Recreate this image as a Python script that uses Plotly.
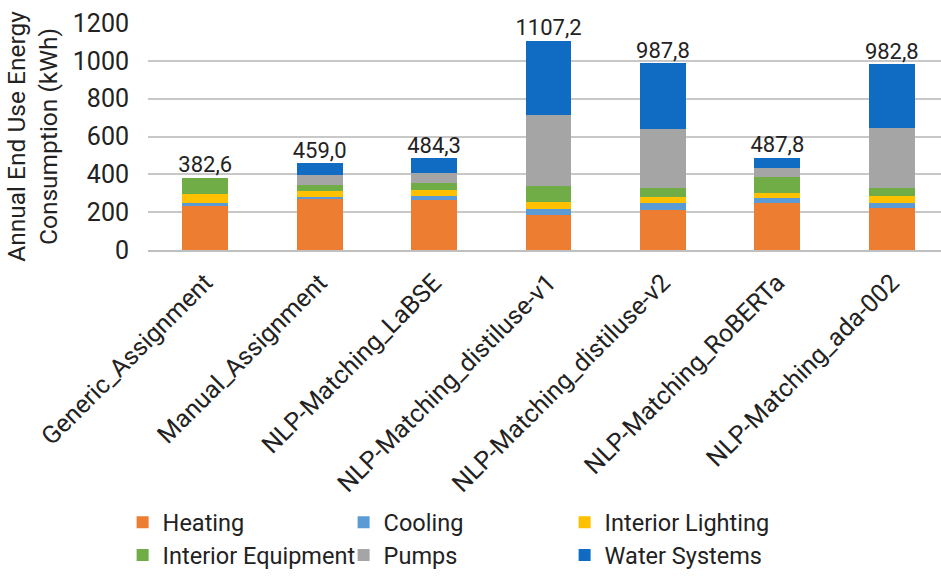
import plotly.graph_objects as go

categories = [
    "Generic_Assignment",
    "Manual_Assignment",
    "NLP-Matching_LaBSE",
    "NLP-Matching_distiluse-v1",
    "NLP-Matching_distiluse-v2",
    "NLP-Matching_RoBERTa",
    "NLP-Matching_ada-002",
]

heating = [235.0, 267.0, 265.0, 187.0, 214.0, 251.0, 221.0]
cooling = [15.0, 13.0, 19.0, 30.0, 32.0, 23.0, 28.0]
interior_lighting = [48.0, 32.0, 35.0, 37.0, 34.0, 29.0, 37.0]
interior_equipment = [84.6, 30.0, 35.0, 84.0, 48.0, 83.0, 44.0]
pumps = [0.0, 56.0, 55.0, 375.0, 312.0, 47.0, 315.0]
water_systems = [0.0, 61.0, 75.3, 394.2, 347.8, 54.8, 337.8]

y_ticks = [0, 200, 400, 600, 800, 1000, 1200]

# (name, values, colour, legend row)
series = [
    ("Heating", heating, "#ED7D31", "legend"),
    ("Cooling", cooling, "#5B9BD5", "legend"),
    ("Interior Lighting", interior_lighting, "#FFC000", "legend"),
    ("Interior Equipment", interior_equipment, "#70AD47", "legend2"),
    ("Pumps", pumps, "#A5A5A5", "legend2"),
    ("Water Systems", water_systems, "#0F6CC2", "legend2"),
]

FONT = "Roboto"
TEXT = "#222222"

fig = go.Figure()
for name, vals, color, leg in series:
    fig.add_trace(go.Bar(
        name=name, x=categories, y=vals, legend=leg,
        marker=dict(color=color, line=dict(width=0)),
    ))

totals = [round(sum(v), 1) for v in zip(heating, cooling, interior_lighting,
                                        interior_equipment, pumps, water_systems)]
fig.add_trace(go.Scatter(
    x=categories, y=totals, mode="text", cliponaxis=False,
    text=[f"{t:.1f}".replace(".", ",") for t in totals],
    textposition="top center",
    textfont=dict(family=FONT, size=22, color=TEXT),
    showlegend=False, hoverinfo="skip",
))

legend_style = dict(
    orientation="h", xanchor="left", x=-0.032,
    entrywidth=176, itemwidth=30, traceorder="normal",
    font=dict(family=FONT, size=23.5, color=TEXT), bgcolor="rgba(0,0,0,0)",
)

fig.update_layout(
    width=941, height=578,
    barmode="stack", bargap=0.6,
    plot_bgcolor="white", paper_bgcolor="white",
    margin=dict(l=148, r=0, t=23, b=328),
    font=dict(family=FONT, size=24, color=TEXT),
    legend=dict(legend_style, y=-1.200, yanchor="middle"),
    legend2=dict(legend_style, y=-1.442, yanchor="bottom"),
    xaxis=dict(
        range=[-0.5, 6.43], tickangle=-45, showgrid=False,
        showline=True, linecolor="#BFBFBF", linewidth=2,
        tickfont=dict(family=FONT, size=25, color=TEXT),
        ticklabelstandoff=6,
    ),
    yaxis=dict(
        range=[0, 1200], tickvals=y_ticks, showgrid=True,
        gridcolor="#C8C8C8", gridwidth=2, zeroline=False,
        tickfont=dict(family=FONT, size=25, color=TEXT),
        ticklabelstandoff=18,
        title=dict(text="Annual End Use Energy<br>Consumption (kWh)",
                   font=dict(family=FONT, size=24.5, color=TEXT), standoff=8),
    ),
)

fig.write_html("out.html")
